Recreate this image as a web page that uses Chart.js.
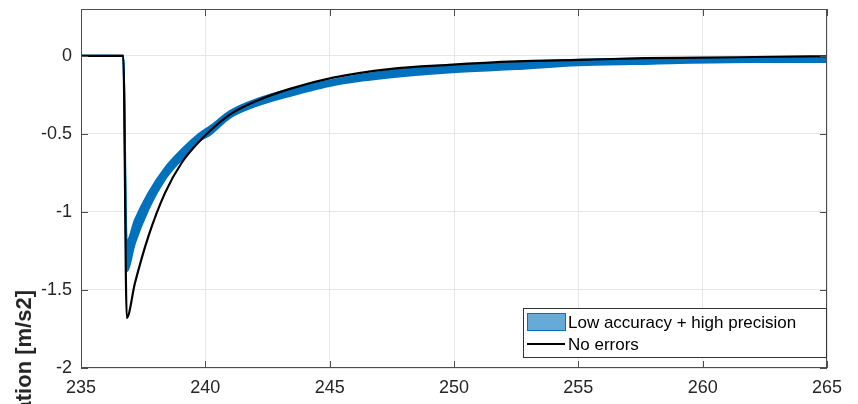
<!DOCTYPE html>
<html>
<head>
<meta charset="utf-8">
<script src="https://cdn.jsdelivr.net/npm/chart.js@4"></script>
<style>
  html, body { margin: 0; padding: 0; background: #fff; }
  #wrap { width: 858px; height: 404px; position: relative; }
</style>
</head>
<body>
<div id="wrap"><canvas id="accChart"></canvas></div>
<script>
// time axis ticks
var xTicks = [235, 240, 245, 250, 255, 260, 265];
var yTicks = [-2, -1.5, -1, -0.5, 0];

// "No errors" reference run
var refTime = [235, 236.7, 236.84, 237.17, 237.71, 238.38, 239.05, 239.72, 240.19, 241.0, 242.06, 243.4, 245.14, 247.4, 249.8, 252.5, 255.06, 257.7, 260, 262.8, 265];
var refAcc  = [0, 0, -1.68, -1.456, -1.157, -0.878, -0.685, -0.555, -0.48, -0.375, -0.289, -0.212, -0.14, -0.085, -0.058, -0.036, -0.026, -0.015, -0.012, -0.006, -0.003];

// envelope of the "Low accuracy + high precision" runs
var bandTime  = [235, 236.7, 236.84, 237.17, 237.71, 238.38, 239.05, 239.72, 240.2, 241.0, 242.06, 243.4, 245.14, 247.4, 249.8, 252.5, 255, 258, 262, 265];
var bandUpper = [0, 0, -1.19, -1.05, -0.878, -0.717, -0.6, -0.503, -0.45, -0.353, -0.278, -0.214, -0.154, -0.096, -0.064, -0.042, -0.025, -0.018, -0.012, -0.015];
var bandLower = [0, 0, -1.38, -1.2, -0.985, -0.792, -0.664, -0.55, -0.505, -0.396, -0.321, -0.257, -0.188, -0.139, -0.107, -0.085, -0.06, -0.05, -0.04, -0.04];

var legendLabels = ["Low accuracy + high precision", "No errors"];
var yTitle = "Acceleration [m/s2]";

function pts(xs, ys) {
    return xs.map(function (x, i) { return { x: x, y: ys[i] }; });
}

var FONT = "'Liberation Sans', Arial, Helvetica, sans-serif";
var BLUE = "#0072BD";
var AXIS = "#4d4d4d";

// box, inner ticks, legend and the (cut) y title
var matlabAxes = {
    id: 'matlabAxes',
    afterDraw: function (chart) {
        var c = chart.ctx, a = chart.chartArea;
        var xs = chart.scales.x, ys = chart.scales.y;
        c.save();
        c.strokeStyle = AXIS;
        c.lineWidth = 1;
        c.strokeRect(a.left + 0.5, a.top + 0.5, a.right - a.left - 1, a.bottom - a.top - 1);
        c.beginPath();
        xTicks.forEach(function (t) {
            var px = Math.round(xs.getPixelForValue(t)) + 0.5;
            c.moveTo(px, a.bottom); c.lineTo(px, a.bottom - 7);
            c.moveTo(px, a.top); c.lineTo(px, a.top + 7);
        });
        yTicks.forEach(function (t) {
            var py = Math.round(ys.getPixelForValue(t)) + 0.5;
            c.moveTo(a.left, py); c.lineTo(a.left + 7, py);
            c.moveTo(a.right, py); c.lineTo(a.right - 7, py);
        });
        c.stroke();

        // legend
        var lx = 523, ly = 308, lw = 303, lh = 49;
        c.fillStyle = '#fff';
        c.fillRect(lx, ly, lw, lh);
        c.strokeStyle = '#333';
        c.strokeRect(lx + 0.5, ly + 0.5, lw, lh);
        c.fillStyle = 'rgba(0,114,189,0.6)';
        c.fillRect(527, 313, 38, 17);
        c.strokeStyle = BLUE;
        c.lineWidth = 1;
        c.strokeRect(527.5, 313.5, 38, 17);
        c.strokeStyle = '#000';
        c.lineWidth = 2;
        c.beginPath();
        c.moveTo(527, 344); c.lineTo(565, 344);
        c.stroke();
        c.fillStyle = '#000';
        c.font = '17px ' + FONT;
        c.textBaseline = 'middle';
        c.textAlign = 'left';
        c.fillText(legendLabels[0], 568, 323);
        c.fillText(legendLabels[1], 568, 345);

        // y axis title, rotated, partly outside the canvas
        c.translate(31, 290);
        c.rotate(-Math.PI / 2);
        c.font = 'bold 22px ' + FONT;
        c.textAlign = 'right';
        c.textBaseline = 'alphabetic';
        c.fillStyle = '#262626';
        c.fillText(yTitle, 0, 0);
        c.restore();
    }
};

var ctx = document.getElementById('accChart');
var accChart = new Chart(ctx, {
    type: 'line',
    data: {
        datasets: [
            {
                label: legendLabels[1],
                data: pts(refTime, refAcc),
                borderColor: '#000',
                borderWidth: 2.2,
                pointRadius: 0,
                fill: false,
                cubicInterpolationMode: 'monotone'
            },
            {
                label: legendLabels[0],
                data: pts(bandTime, bandUpper),
                borderColor: BLUE,
                borderWidth: 2,
                pointRadius: 0,
                fill: false,
                cubicInterpolationMode: 'monotone'
            },
            {
                label: legendLabels[0] + ' (low)',
                data: pts(bandTime, bandLower),
                borderColor: BLUE,
                backgroundColor: BLUE,
                borderWidth: 2,
                pointRadius: 0,
                fill: '-1',
                cubicInterpolationMode: 'monotone'
            }
        ]
    },
    options: {
        responsive: true,
        maintainAspectRatio: false,
        animation: false,
        layout: { padding: { top: 9, right: 31, left: 0, bottom: 0 } },
        plugins: {
            legend: { display: false },
            tooltip: { enabled: false }
        },
        scales: {
            x: {
                type: 'linear',
                min: 235,
                max: 265,
                afterBuildTicks: function (s) {
                    s.ticks = xTicks.map(function (v) { return { value: v }; });
                },
                ticks: {
                    color: '#262626',
                    font: { family: FONT, size: 18 },
                    padding: 9,
                    maxRotation: 0,
                    autoSkip: false,
                    callback: function (v) { return String(v); }
                },
                grid: { color: '#e6e6e6', drawTicks: false },
                border: { display: false },
                afterFit: function (s) { s.height = 36; s.paddingLeft = 0; s.paddingRight = 0; }
            },
            y: {
                type: 'linear',
                min: -2,
                max: 0.3,
                afterBuildTicks: function (s) {
                    s.ticks = yTicks.map(function (v) { return { value: v }; });
                },
                ticks: {
                    color: '#262626',
                    font: { family: FONT, size: 18 },
                    padding: 9,
                    autoSkip: false,
                    callback: function (v) { return String(v); }
                },
                grid: { color: '#e6e6e6', drawTicks: false },
                border: { display: false },
                afterFit: function (s) { s.width = 81; s.paddingTop = 0; s.paddingBottom = 0; }
            }
        }
    },
    plugins: [matlabAxes]
});
</script>
</body>
</html>
